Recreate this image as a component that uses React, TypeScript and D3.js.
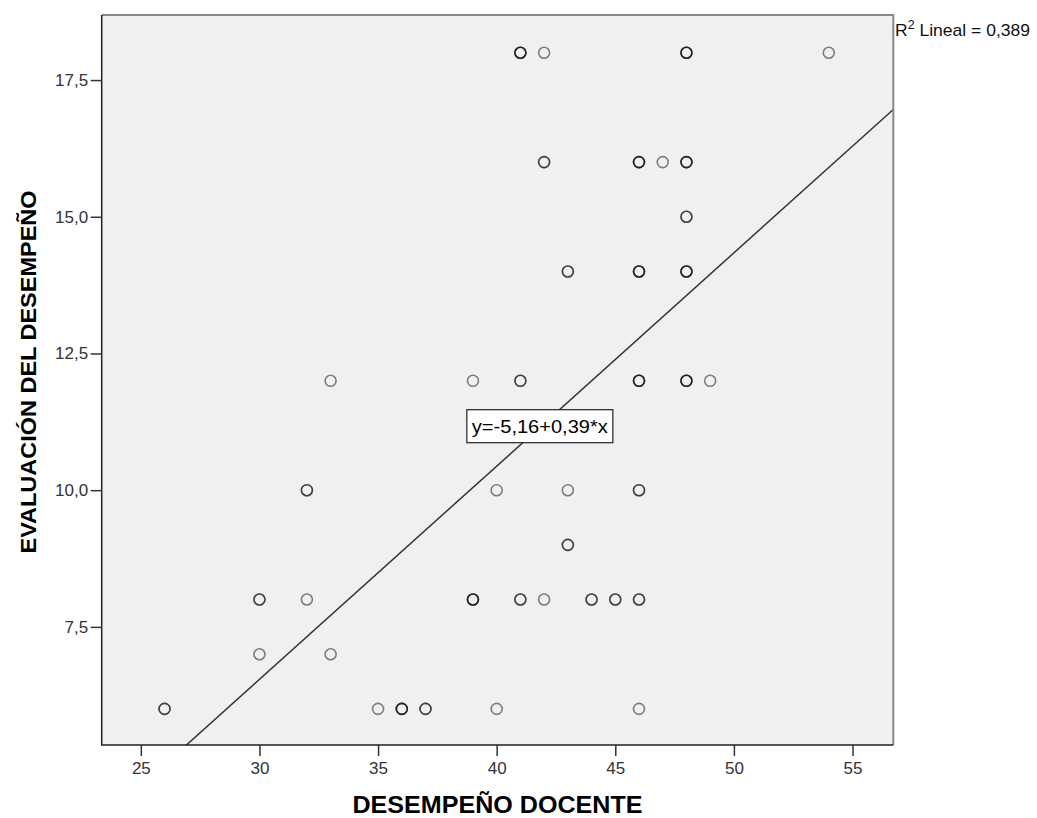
import React, { useEffect, useRef } from 'react';
import * as d3 from 'd3';

// DESEMPEÑO DOCENTE (x) vs EVALUACIÓN DEL DESEMPEÑO (y); repeated pairs overlap
const desempenoDocente = [
  41, 41, 41, 42, 48, 48, 48, 54,
  42, 42, 46, 46, 46, 47, 48, 48, 48,
  48, 48,
  43, 43, 46, 46, 46, 48, 48, 48,
  33, 39, 41, 41, 46, 46, 46, 48, 48, 48, 49,
  32, 32, 40, 43, 46, 46,
  43, 43,
  30, 30, 32, 39, 39, 39, 41, 41, 42, 44, 44, 45, 45, 46, 46,
  30, 33,
  26, 26, 35, 36, 36, 36, 37, 37, 40, 46,
];
const evaluacionDesempeno = [
  18, 18, 18, 18, 18, 18, 18, 18,
  16, 16, 16, 16, 16, 16, 16, 16, 16,
  15, 15,
  14, 14, 14, 14, 14, 14, 14, 14,
  12, 12, 12, 12, 12, 12, 12, 12, 12, 12, 12,
  10, 10, 10, 10, 10, 10,
  9, 9,
  8, 8, 8, 8, 8, 8, 8, 8, 8, 8, 8, 8, 8, 8, 8,
  7, 7,
  6, 6, 6, 6, 6, 6, 6, 6, 6, 6,
];

const xDomain = [23.35, 56.72];
const yDomain = [5.34, 18.69];
const xTicks = [25, 30, 35, 40, 45, 50, 55];
const yTicks = [7.5, 10, 12.5, 15, 17.5];

const intercept = -5.16;
const slope = 0.39;
const rSquared = 0.389;
const labelAt = [41.82, 11.17];

const W = 1037;
const H = 818;

// comma decimals, plain hyphen for negatives
const comma = (spec: string) => (v: number) =>
  d3.format(spec)(v).replace('.', ',').replace('\u2212', '-');

export default function App() {
  const ref = useRef<SVGSVGElement>(null);

  useEffect(() => {
    const svg = d3.select(ref.current);
    svg.selectAll('*').remove();

    const left = 101.7, right = 893.3, top = 15, bottom = 745;
    const font = '"Liberation Sans", Arial, sans-serif';

    const x = d3.scaleLinear().domain(xDomain).range([left, right]);
    const y = d3.scaleLinear().domain(yDomain).range([bottom, top]);

    svg.append('rect')
      .attr('x', left).attr('y', top)
      .attr('width', right - left).attr('height', bottom - top)
      .attr('fill', '#f0f0f0');

    svg.append('clipPath').attr('id', 'plotClip')
      .append('rect')
      .attr('x', left).attr('y', top)
      .attr('width', right - left).attr('height', bottom - top);

    // regression line
    svg.append('line')
      .attr('clip-path', 'url(#plotClip)')
      .attr('x1', x(xDomain[0])).attr('y1', y(intercept + slope * xDomain[0]))
      .attr('x2', x(xDomain[1])).attr('y2', y(intercept + slope * xDomain[1]))
      .attr('stroke', '#333').attr('stroke-width', 1.5);

    // points
    svg.append('g')
      .selectAll('circle')
      .data(desempenoDocente.map((d, i) => [d, evaluacionDesempeno[i]]))
      .join('circle')
      .attr('cx', d => x(d[0]))
      .attr('cy', d => y(d[1]))
      .attr('r', 5.5)
      .attr('fill', 'none')
      .attr('stroke', '#000')
      .attr('stroke-opacity', 0.48)
      .attr('stroke-width', 1.6);

    // frame
    svg.append('path')
      .attr('d', `M${left},${top}H${right}V${bottom}`)
      .attr('fill', 'none').attr('stroke', '#888').attr('stroke-width', 2);
    svg.append('path')
      .attr('d', `M${left},${top}V${bottom}H${right}`)
      .attr('fill', 'none').attr('stroke', '#222').attr('stroke-width', 1.5);

    const gx = svg.append('g')
      .attr('transform', `translate(0,${bottom})`)
      .call(d3.axisBottom(x).tickValues(xTicks).tickSize(11).tickPadding(6).tickFormat(d => String(d)));
    const gy = svg.append('g')
      .attr('transform', `translate(${left},0)`)
      .call(d3.axisLeft(y).tickValues(yTicks).tickSize(11).tickPadding(2.5).tickFormat(d => comma('.1f')(+d)));

    [gx, gy].forEach(g => {
      g.select('.domain').remove();
      g.selectAll('line').attr('stroke', '#333').attr('stroke-width', 1.5);
      g.selectAll('text')
        .attr('fill', '#333')
        .style('font-family', font)
        .style('font-size', '17px');
    });

    // axis titles
    svg.append('text')
      .attr('x', (left + right) / 2).attr('y', 813)
      .attr('text-anchor', 'middle')
      .attr('textLength', 290).attr('lengthAdjust', 'spacingAndGlyphs')
      .style('font-family', font).style('font-weight', 'bold').style('font-size', '23px')
      .text('DESEMPEÑO DOCENTE');

    svg.append('text')
      .attr('transform', `translate(35.5,372) rotate(-90)`)
      .attr('text-anchor', 'middle')
      .attr('textLength', 363).attr('lengthAdjust', 'spacingAndGlyphs')
      .style('font-family', font).style('font-weight', 'bold').style('font-size', '22px')
      .text('EVALUACIÓN DEL DESEMPEÑO');

    // equation label
    const lx = x(labelAt[0]), ly = y(labelAt[1]);
    const eq = svg.append('g');
    eq.append('rect')
      .attr('x', lx - 73).attr('y', ly - 16.5)
      .attr('width', 146).attr('height', 33)
      .attr('fill', '#fff').attr('stroke', '#222').attr('stroke-width', 1.2);
    eq.append('text')
      .attr('x', lx).attr('y', ly + 6.5)
      .attr('text-anchor', 'middle')
      .attr('textLength', 136).attr('lengthAdjust', 'spacingAndGlyphs')
      .style('font-family', font).style('font-size', '17.5px')
      .text(`y=${comma('.2f')(intercept)}+${comma('.2f')(slope)}*x`);

    // R² label
    const r2 = svg.append('text')
      .attr('x', 895).attr('y', 36)
      .attr('textLength', 135).attr('lengthAdjust', 'spacingAndGlyphs')
      .style('font-family', font).style('font-size', '17px')
      .attr('fill', '#111');
    r2.append('tspan').text('R');
    r2.append('tspan').attr('dy', -7).style('font-size', '12px').text('2');
    r2.append('tspan').attr('dy', 7).text(` Lineal = ${comma('.3f')(rSquared)}`);
  }, []);

  return (
    <div style={{ position: 'absolute', left: 0, top: 0 }}>
      <svg ref={ref} width={W} height={H} style={{ display: 'block', background: '#fff' }} />
    </div>
  );
}
